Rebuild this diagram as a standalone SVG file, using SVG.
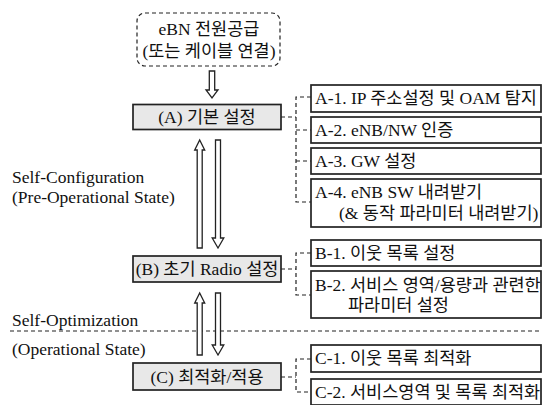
<svg xmlns="http://www.w3.org/2000/svg" width="546" height="405" viewBox="0 0 546 405">
<style>
text{font-family:"Liberation Serif","Noto Sans CJK KR",serif;font-size:17.5px;fill:#111}
.c{text-anchor:middle}
.main{fill:#e8e8e8;stroke:#222;stroke-width:1.7}
.sub{fill:#fff;stroke:#222;stroke-width:1.7}
.dash{fill:none;stroke:#222;stroke-width:1.2;stroke-dasharray:4 3}
.arr{fill:#fff;stroke:#222;stroke-width:1.3;stroke-linejoin:miter}
</style>
<rect width="546" height="405" fill="#fff"/>
<g id="start">
<rect x="137" y="13" width="143" height="53" rx="8" class="dash" stroke-width="1.4"/>
<text class="c" x="209" y="35">eBN 전원공급</text>
<text class="c" x="209" y="57">(또는 케이블 연결)</text>
</g>
<g id="nodeA">
<rect x="133" y="104.5" width="148" height="25" class="main"/>
<text class="c" x="207" y="123">(A) 기본 설정</text>
</g>
<g id="nodeB">
<rect x="133" y="256" width="148" height="26" class="main"/>
<text class="c" x="207" y="275">(B) 초기 Radio 설정</text>
</g>
<g id="nodeC">
<rect x="133" y="363" width="148" height="27" class="main"/>
<text class="c" x="207" y="383">(C) 최적화/적용</text>
</g>
<g id="A1"><rect x="311" y="85" width="230" height="27" class="sub"/><text x="315" y="104">A-1. IP 주소설정 및 OAM 탐지</text></g>
<g id="A2"><rect x="311" y="117" width="230" height="26" class="sub"/><text x="315" y="136">A-2. eNB/NW 인증</text></g>
<g id="A3"><rect x="311" y="148" width="230" height="26" class="sub"/><text x="315" y="167">A-3. GW 설정</text></g>
<g id="A4"><rect x="311" y="179" width="230" height="48" class="sub"/><text x="315" y="198">A-4. eNB SW 내려받기</text><text x="339" y="219">(&amp; 동작 파라미터 내려받기)</text></g>
<g id="B1"><rect x="311" y="240" width="230" height="26" class="sub"/><text x="315" y="259">B-1. 이웃 목록 설정</text></g>
<g id="B2"><rect x="311" y="271" width="230" height="47" class="sub"/><text x="315" y="291">B-2. 서비스 영역/용량과 관련한</text><text x="348" y="311">파라미터 설정</text></g>
<g id="C1"><rect x="311" y="345" width="230" height="27" class="sub"/><text x="315" y="364">C-1. 이웃 목록 최적화</text></g>
<g id="C2"><rect x="311" y="379" width="230" height="26" class="sub"/><text x="315" y="398">C-2. 서비스영역 및 목록 최적화</text></g>
<g id="labels">
<text x="12" y="183">Self-Configuration</text>
<text x="12" y="203">(Pre-Operational State)</text>
<text x="12" y="326">Self-Optimization</text>
<text x="12" y="355">(Operational State)</text>
</g>
<g id="connectors">
<line x1="10" y1="331" x2="541" y2="331" class="dash"/>
<path class="dash" d="M281 117H296M311 97H296V202H311M296 130H311M296 161H311"/>
<path class="dash" d="M281 269H296M311 253H296V295H311"/>
<path class="dash" d="M281 377H296M311 359H296V392H311"/>
<polygon class="arr" points="209.3,71 214.7,71 214.7,90 218,90 212,98 206,90 209.3,90"/>
<polygon class="arr" points="199.7,140 204.7,150 202.2,150 202.2,248 197.2,248 197.2,150 194.7,150"/>
<polygon class="arr" points="215.5,140 220.5,140 220.5,238 223.8,238 218,248 212.2,238 215.5,238"/>
<polygon class="arr" points="199.7,293 204.7,303 202.2,303 202.2,355 197.2,355 197.2,303 194.7,303"/>
<polygon class="arr" points="215.5,293 220.5,293 220.5,345 223.8,345 218,355 212.2,345 215.5,345"/>
</g>
</svg>
